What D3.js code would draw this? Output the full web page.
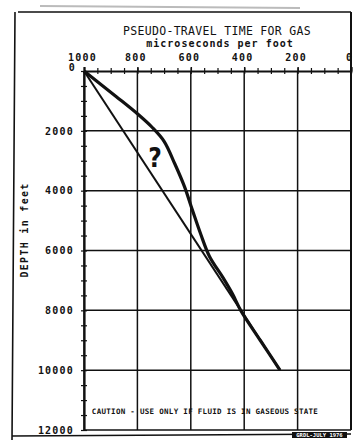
<!DOCTYPE html>
<html><head><meta charset="utf-8">
<script src="https://cdn.jsdelivr.net/npm/d3@7"></script>
<style>
html,body{margin:0;padding:0;background:#fff;}
svg{display:block;}
</style></head>
<body>
<svg id="c" width="358" height="444"></svg>
<script>
// ---- data ----
const xTicks = [1000, 800, 600, 400, 200, 0];          // microseconds per foot
const xMinor = d3.range(1000, -1, -50);
const yTicks = [0, 2000, 4000, 6000, 8000, 10000, 12000]; // depth in feet
const yMinor = d3.range(0, 12001, 500);
// curved (thick) pseudo-travel-time line: [time, depth]
const curveTime  = [1000, 880, 800, 745, 700, 660, 624, 594, 563, 530, 480, 444, 413, 340, 266];
const curveDepth = [0,    850, 1430, 1880, 2350, 3100, 3857, 4650, 5450, 6200, 6900, 7450, 8000, 9000, 10000];
// straight (thin) line
const lineTime  = [1000, 266];
const lineDepth = [0, 10000];
const title = "PSEUDO-TRAVEL TIME FOR GAS";
const subtitle = "microseconds per foot";
const yTitle = "DEPTH in feet";
const caution = "CAUTION - USE ONLY IF FLUID IS IN GASEOUS STATE";
const stamp = "GRDL-JULY 1976";

// ---- layout ----
const svg = d3.select("#c");
const L = 84, R = 351, T = 71, B = 430;
const x = d3.scaleLinear().domain([1000, 0]).range([L, R]);
const y = d3.scaleLinear().domain([0, 12000]).range([T, B]);
const mono = "'DejaVu Sans Mono', monospace";
const ink = "#111";

// outer frame
svg.append("path")
  .attr("d", `M18,12 L${R},12 M15,12 L12,440 M12,436 L${R},434`)
  .attr("fill", "none").attr("stroke", ink).attr("stroke-width", 1.6);
svg.append("line").attr("x1", R).attr("x2", R).attr("y1", 12).attr("y2", B)
  .attr("stroke", ink).attr("stroke-width", 2);
svg.append("line").attr("x1", 40).attr("x2", 300).attr("y1", 6).attr("y2", 8)
  .attr("stroke", "#bbb").attr("stroke-width", 2);

// grid
const g = svg.append("g");
g.selectAll(".vg").data(xTicks).join("line")
  .attr("x1", d => x(d)).attr("x2", d => x(d)).attr("y1", T).attr("y2", B)
  .attr("stroke", ink).attr("stroke-width", 1.5);
g.selectAll(".hg").data(yTicks.slice(1)).join("line")
  .attr("x1", L).attr("x2", R).attr("y1", d => y(d)).attr("y2", d => y(d))
  .attr("stroke", ink).attr("stroke-width", 1.5);

// top axis
const topAxis = svg.append("g").attr("transform", `translate(0,${T})`)
  .call(d3.axisTop(x).tickValues(xTicks).tickSize(4).tickPadding(6).tickFormat(d3.format("d")));
topAxis.select(".domain").attr("stroke", ink).attr("stroke-width", 2);
topAxis.selectAll(".tick line").attr("stroke", ink).attr("stroke-width", 1.5);
topAxis.selectAll("text").attr("font-family", mono).attr("font-weight", "bold")
  .attr("font-size", 10).attr("letter-spacing", 1.2).attr("fill", ink).attr("dx", -2);
const topMinor = svg.append("g").attr("transform", `translate(0,${T + 3})`)
  .call(d3.axisTop(x).tickValues(xMinor).tickSize(6).tickFormat(""));
topMinor.select(".domain").remove();
topMinor.selectAll(".tick line").attr("stroke", ink).attr("stroke-width", 1.2);

// left axis
const leftAxis = svg.append("g").attr("transform", `translate(${L},0)`)
  .call(d3.axisLeft(y).tickValues(yTicks).tickSize(0).tickPadding(10).tickFormat(d3.format("d")));
leftAxis.select(".domain").attr("stroke", ink).attr("stroke-width", 2.2);
leftAxis.selectAll("text").attr("font-family", mono).attr("font-weight", "bold")
  .attr("font-size", 10).attr("letter-spacing", 1.2).attr("fill", ink);
leftAxis.selectAll(".tick").filter(d => d === 0).select("text").attr("dy", "-0.1em").attr("dx", 2);
const leftMinor = svg.append("g").attr("transform", `translate(${L + 3},0)`)
  .call(d3.axisLeft(y).tickValues(yMinor).tickSize(6).tickFormat(""));
leftMinor.select(".domain").remove();
leftMinor.selectAll(".tick line").attr("stroke", ink).attr("stroke-width", 1.2);

// lines
const lineGen = d3.line().x(d => x(d[0])).y(d => y(d[1]));
svg.append("path").datum(d3.zip(lineTime, lineDepth))
  .attr("d", lineGen).attr("fill", "none").attr("stroke", ink).attr("stroke-width", 2);
svg.append("path").datum(d3.zip(curveTime, curveDepth))
  .attr("d", lineGen.curve(d3.curveCatmullRom.alpha(0.5))).attr("fill", "none")
  .attr("stroke", ink).attr("stroke-width", 3.2).attr("stroke-linejoin", "round");

// question mark
svg.append("text").attr("x", x(734)).attr("y", y(3200)).attr("text-anchor", "middle")
  .attr("font-family", "'DejaVu Sans Condensed', 'DejaVu Sans', sans-serif").attr("font-weight", "bold")
  .attr("font-size", 26).attr("fill", ink).text("?");

// titles
svg.append("text").attr("x", 217).attr("y", 35).attr("text-anchor", "middle")
  .attr("font-family", mono).attr("font-size", 11.5).attr("letter-spacing", 0.3)
  .attr("fill", ink).text(title);
svg.append("text").attr("x", 220).attr("y", 47).attr("text-anchor", "middle")
  .attr("font-family", mono).attr("font-weight", "bold").attr("font-size", 10)
  .attr("letter-spacing", 1).attr("fill", ink).text(subtitle);
svg.append("text").attr("transform", "translate(28,230) rotate(-90)").attr("text-anchor", "middle")
  .attr("font-family", mono).attr("font-weight", "bold").attr("font-size", 10)
  .attr("letter-spacing", 1.3).attr("fill", ink).text(yTitle);
svg.append("text").attr("x", 205).attr("y", 414).attr("text-anchor", "middle")
  .attr("font-family", mono).attr("font-weight", "bold").attr("font-size", 7.5)
  .attr("letter-spacing", 0.3).attr("fill", ink).text(caution);

// stamp
svg.append("rect").attr("x", 292).attr("y", 432).attr("width", 55).attr("height", 6).attr("fill", ink);
svg.append("text").attr("x", 319.5).attr("y", 437.2).attr("text-anchor", "middle")
  .attr("font-family", mono).attr("font-weight", "bold").attr("font-size", 5.5)
  .attr("fill", "#fff").text(stamp);
</script>
</body></html>
